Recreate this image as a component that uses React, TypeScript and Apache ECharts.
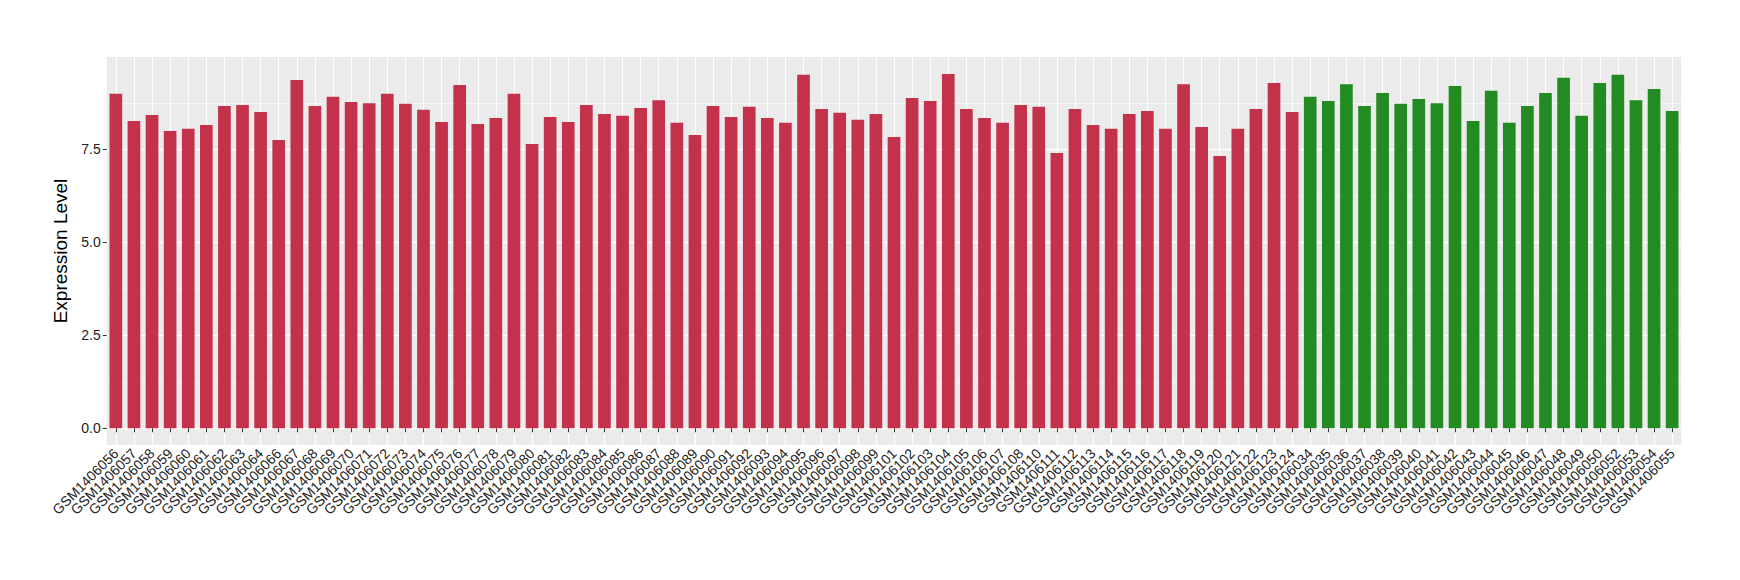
import React, { useEffect, useRef } from "react";
import * as echarts from "echarts";

const tumorSamples = [
  "GSM1406056", "GSM1406057", "GSM1406058", "GSM1406059", "GSM1406060", "GSM1406061", "GSM1406062", "GSM1406063", "GSM1406064", "GSM1406066",
  "GSM1406067", "GSM1406068", "GSM1406069", "GSM1406070", "GSM1406071", "GSM1406072", "GSM1406073", "GSM1406074", "GSM1406075", "GSM1406076",
  "GSM1406077", "GSM1406078", "GSM1406079", "GSM1406080", "GSM1406081", "GSM1406082", "GSM1406083", "GSM1406084", "GSM1406085", "GSM1406086",
  "GSM1406087", "GSM1406088", "GSM1406089", "GSM1406090", "GSM1406091", "GSM1406092", "GSM1406093", "GSM1406094", "GSM1406095", "GSM1406096",
  "GSM1406097", "GSM1406098", "GSM1406099", "GSM1406101", "GSM1406102", "GSM1406103", "GSM1406104", "GSM1406105", "GSM1406106", "GSM1406107",
  "GSM1406108", "GSM1406110", "GSM1406111", "GSM1406112", "GSM1406113", "GSM1406114", "GSM1406115", "GSM1406116", "GSM1406117", "GSM1406118",
  "GSM1406119", "GSM1406120", "GSM1406121", "GSM1406122", "GSM1406123", "GSM1406124",
];
const tumorValues = [
  8.99, 8.26, 8.42, 7.99, 8.05, 8.15, 8.66, 8.69, 8.50, 7.75,
  9.36, 8.66, 8.91, 8.77, 8.74, 8.99, 8.72, 8.56, 8.23, 9.23,
  8.18, 8.34, 8.99, 7.64, 8.37, 8.23, 8.69, 8.45, 8.40, 8.61,
  8.82, 8.21, 7.88, 8.66, 8.37, 8.64, 8.34, 8.21, 9.50, 8.58,
  8.48, 8.29, 8.45, 7.83, 8.88, 8.80, 9.52, 8.58, 8.34, 8.21,
  8.69, 8.64, 7.40, 8.58, 8.15, 8.05, 8.45, 8.53, 8.05, 9.25,
  8.10, 7.32, 8.05, 8.58, 9.28, 8.50,
];
const normalSamples = [
  "GSM1406034", "GSM1406035", "GSM1406036", "GSM1406037", "GSM1406038", "GSM1406039", "GSM1406040", "GSM1406041", "GSM1406042", "GSM1406043",
  "GSM1406044", "GSM1406045", "GSM1406046", "GSM1406047", "GSM1406048", "GSM1406049", "GSM1406050", "GSM1406052", "GSM1406053", "GSM1406054",
  "GSM1406055",
];
const normalValues = [
  8.91, 8.80, 9.25, 8.66, 9.01, 8.72, 8.85, 8.74, 9.20, 8.26,
  9.07, 8.21, 8.66, 9.01, 9.42, 8.40, 9.28, 9.50, 8.82, 9.12,
  8.53,
];
const yMajorTicks = [0, 2.5, 5, 7.5];
const yMinorTicks = [1.25, 3.75, 6.25, 8.75];

const TUMOR_COLOR = "#C3314A";
const NORMAL_COLOR = "#228B22";
const FONT = "'Liberation Sans', Arial, Helvetica, sans-serif";

export default function App() {
  const ref = useRef<HTMLDivElement>(null);

  useEffect(() => {
    if (!ref.current) return;
    const chart = echarts.init(ref.current, undefined, { renderer: "svg" });
    const categories = [...tumorSamples, ...normalSamples];
    const data = [
      ...tumorValues.map((v) => ({ value: v, itemStyle: { color: TUMOR_COLOR } })),
      ...normalValues.map((v) => ({ value: v, itemStyle: { color: NORMAL_COLOR } })),
    ];

    chart.setOption({
      animation: false,
      backgroundColor: "#FFFFFF",
      textStyle: { fontFamily: FONT },
      grid: {
        left: 106.8,
        right: 58.8,
        top: 57,
        bottom: 135,
        show: true,
        backgroundColor: "#EBEBEB",
        borderWidth: 0,
      },
      xAxis: {
        type: "category",
        data: categories,
        boundaryGap: true,
        axisLine: { show: false },
        axisTick: { show: true, alignWithLabel: true, interval: 0, length: 4, lineStyle: { color: "#333333", width: 1 } },
        splitLine: { show: true, interval: 0, alignWithLabel: true, lineStyle: { color: "#FFFFFF", width: 1.1 } },
        axisLabel: {
          interval: 0,
          rotate: 45,
          margin: 6,
          fontSize: 14,
          color: "#222222",
          fontFamily: FONT,
        },
      },
      yAxis: [
        {
          type: "value",
          min: -0.45,
          max: 9.98,
          name: "Expression Level",
          nameLocation: "middle",
          nameGap: 33,
          nameTextStyle: { fontSize: 19, color: "#000000", fontFamily: FONT },
          axisLine: { show: false },
          axisTick: { show: true, customValues: yMajorTicks, length: 4, lineStyle: { color: "#333333", width: 1 } },
          axisLabel: {
            customValues: yMajorTicks,
            formatter: (v: number) => v.toFixed(1),
            fontSize: 14,
            color: "#222222",
            margin: 6,
            fontFamily: FONT,
          },
          splitLine: { show: true, lineStyle: { color: "#FFFFFF", width: 1.3 } },
        },
        {
          type: "value",
          min: -0.45,
          max: 9.98,
          position: "left",
          axisLine: { show: false },
          axisTick: { show: false, customValues: yMinorTicks },
          axisLabel: { show: false, customValues: yMinorTicks },
          splitLine: { show: true, lineStyle: { color: "#FFFFFF", width: 0.6 } },
        },
      ],
      series: [
        {
          type: "bar",
          data,
          barWidth: "70%",
          yAxisIndex: 0,
          z: 3,
        },
      ],
    });

    return () => chart.dispose();
  }, []);

  return <div ref={ref} style={{ width: 1740, height: 580, margin: -8 }} />;
}
